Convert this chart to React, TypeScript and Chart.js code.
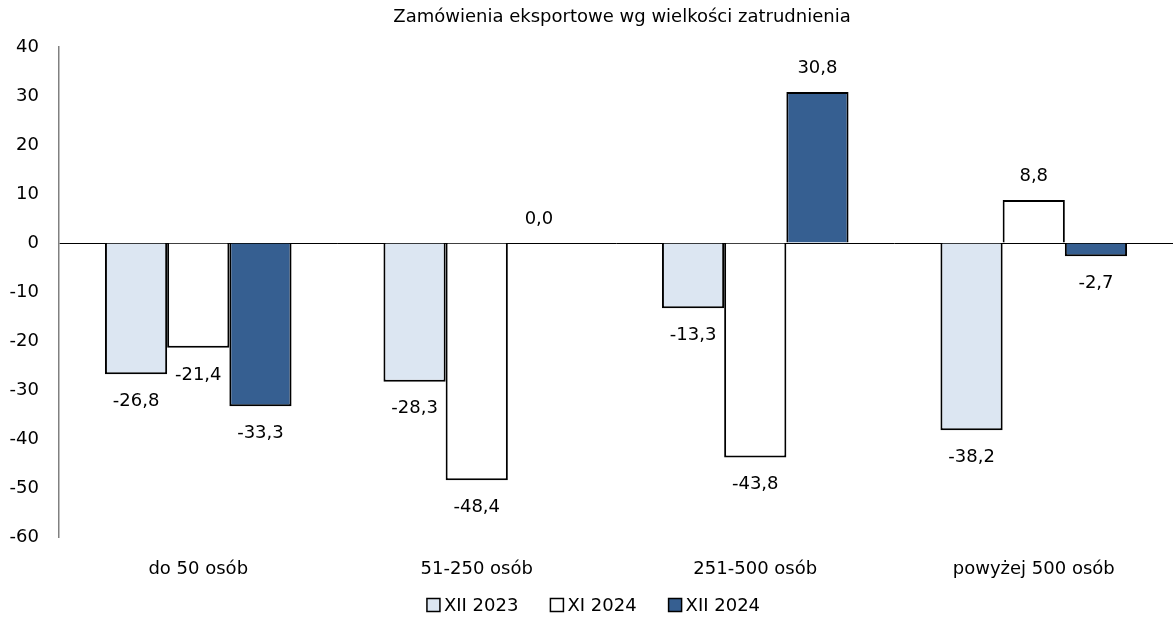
import React, { useEffect, useRef } from "react";
import { Chart, registerables } from "chart.js";

Chart.register(...registerables);

const categories = ["do 50 osób", "51-250 osób", "251-500 osób", "powyżej 500 osób"];
const seriesNames = ["XII 2023", "XI 2024", "XII 2024"];
const xii2023 = [-26.8, -28.3, -13.3, -38.2];
const xi2024 = [-21.4, -48.4, -43.8, 8.8];
const xii2024 = [-33.3, 0.0, 30.8, -2.7];
const yTicks = [-60, -50, -40, -30, -20, -10, 0, 10, 20, 30, 40];
const titleText = "Zamówienia eksportowe wg wielkości zatrudnienia";

const FONT = "'DejaVu Sans', Verdana, sans-serif";

const labelPlugin = {
  id: "valueLabels",
  afterDatasetsDraw(chart: any) {
    const ctx = chart.ctx;
    ctx.save();
    ctx.font = `18px ${FONT}`;
    ctx.fillStyle = "#000";
    ctx.textAlign = "center";
    ctx.textBaseline = "middle";
    chart.data.datasets.forEach((ds: any, i: number) => {
      const meta = chart.getDatasetMeta(i);
      meta.data.forEach((bar: any, j: number) => {
        const v = ds.data[j];
        const txt = v.toFixed(1).replace(".", ",");
        const y = v >= 0 ? bar.y - 24 : bar.y + 27;
        ctx.fillText(txt, bar.x, y);
      });
    });
    ctx.restore();
  },
};

const titleLegendPlugin = {
  id: "titleLegend",
  afterDraw(chart: any) {
    const ctx = chart.ctx;
    const area = chart.chartArea;
    ctx.save();
    // title
    ctx.font = `18px ${FONT}`;
    ctx.fillStyle = "#000";
    ctx.textAlign = "center";
    ctx.textBaseline = "middle";
    ctx.fillText(titleText, (area.left + area.right) / 2 + 6, 17);
    // legend
    const box = 13;
    const gapBoxText = 4;
    const gapItems = 32;
    const widths = chart.data.datasets.map((ds: any) => ctx.measureText(ds.label).width);
    const total =
      widths.reduce((a: number, b: number) => a + b, 0) +
      widths.length * (box + gapBoxText) +
      (widths.length - 1) * gapItems;
    let x = chart.width / 2 + 7 - total / 2;
    const y = 605;
    ctx.textAlign = "left";
    chart.data.datasets.forEach((ds: any, i: number) => {
      ctx.fillStyle = ds.backgroundColor;
      ctx.fillRect(x, y - box / 2, box, box);
      ctx.strokeStyle = "#000";
      ctx.lineWidth = 1.5;
      ctx.strokeRect(x, y - box / 2, box, box);
      ctx.fillStyle = "#000";
      ctx.fillText(ds.label, x + box + gapBoxText, y + 1);
      x += box + gapBoxText + widths[i] + gapItems;
    });
    ctx.restore();
  },
};

export default function App() {
  const ref = useRef<HTMLCanvasElement>(null);
  useEffect(() => {
    document.body.style.margin = "0";
    const chart = new Chart(ref.current!, {
      type: "bar",
      data: {
        labels: categories,
        datasets: [
          { label: seriesNames[0], data: xii2023, backgroundColor: "#DCE6F2", borderColor: "#000", borderWidth: 2 },
          { label: seriesNames[1], data: xi2024, backgroundColor: "#FFFFFF", borderColor: "#000", borderWidth: 2 },
          { label: seriesNames[2], data: xii2024, backgroundColor: "#365F91", borderColor: "#000", borderWidth: 2 },
        ],
      },
      options: {
        animation: false,
        responsive: true,
        maintainAspectRatio: false,
        layout: { padding: { left: 0, right: 0, top: 47, bottom: 0 } },
        datasets: { bar: { categoryPercentage: 0.67, barPercentage: 1.0 } },
        plugins: {
          title: { display: false },
          legend: { display: false },
          tooltip: { enabled: false },
        },
        scales: {
          x: {
            grid: { display: false, drawTicks: false },
            border: { display: false },
            ticks: { color: "#000", font: { family: FONT, size: 18 }, padding: 22 },
            afterFit: (scale: any) => {
              scale.height = 84;
            },
          },
          y: {
            min: -60,
            max: 40,
            afterBuildTicks: (scale: any) => {
              scale.ticks = yTicks.map((v) => ({ value: v }));
            },
            afterFit: (scale: any) => {
              scale.width = 59;
            },
            grid: {
              drawTicks: false,
              color: (c: any) => (c.tick && c.tick.value === 0 ? "#000" : "rgba(0,0,0,0)"),
              lineWidth: 1,
            },
            border: { display: true, color: "#808080", width: 1.5 },
            ticks: { color: "#000", font: { family: FONT, size: 18 }, padding: 20 },
          },
        },
      },
      plugins: [labelPlugin, titleLegendPlugin],
    });
    return () => chart.destroy();
  }, []);
  return (
    <div style={{ width: 1173, height: 621, position: "relative" }}>
      <canvas ref={ref} />
    </div>
  );
}
